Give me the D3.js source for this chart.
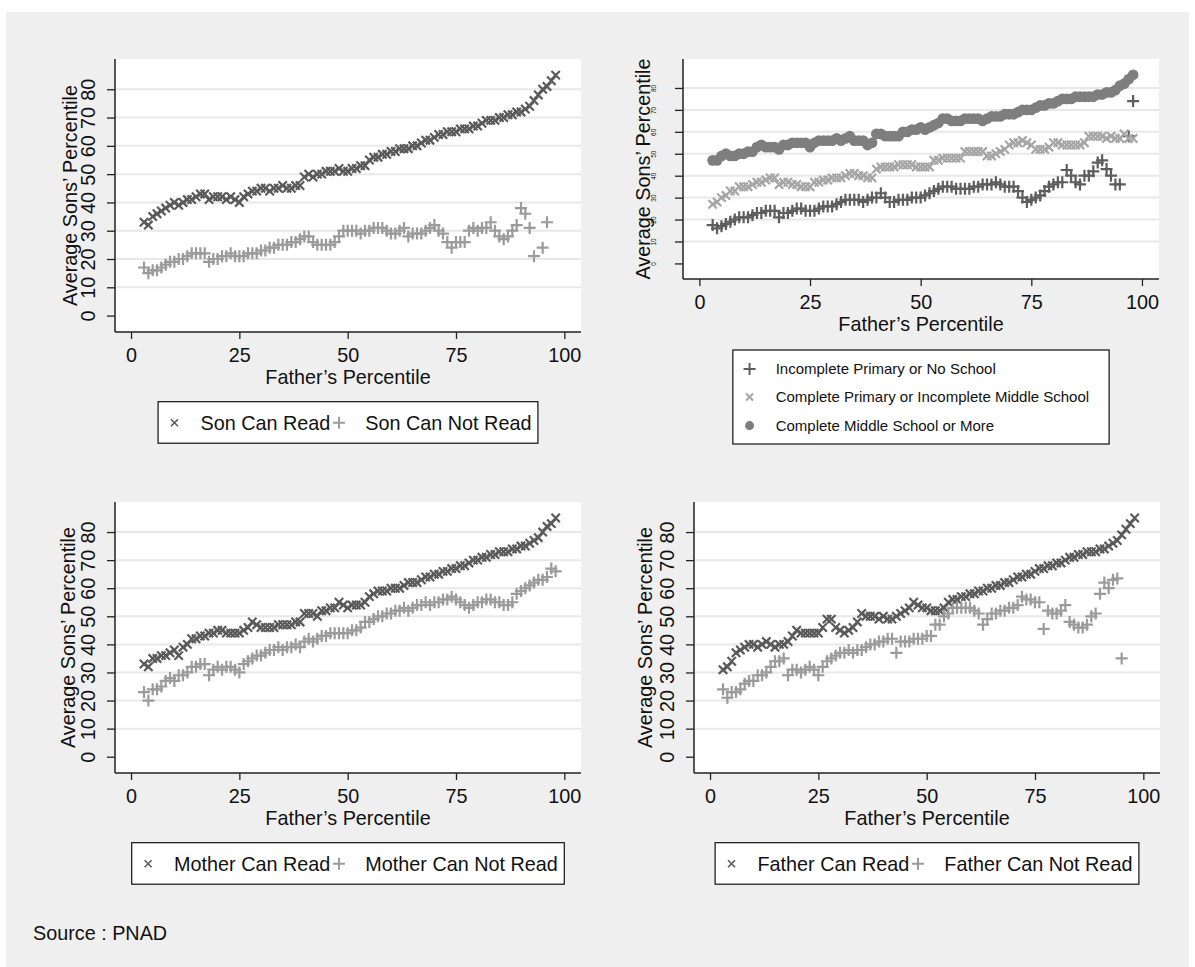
<!DOCTYPE html>
<html>
<head>
<meta charset="utf-8">
<script src="https://cdn.jsdelivr.net/npm/d3@7"></script>
<style>
  body { margin:0; background:#fff; }
  text { font-family:'Liberation Sans', Arial, Helvetica, sans-serif; fill:#111; }
</style>
</head>
<body>
<script>
/* ----- data ------------------------------------------------- */
const pct = [3,4,5,6,7,8,9,10,11,12,13,14,15,16,17,18,19,20,21,22,23,24,25,26,27,28,29,30,
  31,32,33,34,35,36,37,38,39,40,41,42,43,44,45,46,47,48,49,50,51,52,53,54,55,56,57,58,59,60,
  61,62,63,64,65,66,67,68,69,70,71,72,73,74,75,76,77,78,79,80,81,82,83,84,85,86,87,88,89,90,
  91,92,93,94,95,96,97,98];
const xTicks = [0,25,50,75,100];
const yTicks = [0,10,20,30,40,50,60,70,80];

const sonRead = [33,32,35,36,37,38,39,40,39,40, 41,41,42,43,43,41,42,42,42,41,
  42,41,40,42,43,44,44,45,45,44, 45,45,46,45,45,46,46,49,50,49, 50,50,51,51,51,52,51,51,52,52,
  53,53,55,56,56,57,57,58,58,59, 59,59,60,60,61,62,62,63,64,64, 65,65,65,66,66,66,67,67,68,69,
  69,69,70,70,71,71,72,72,73,74, 76,78,80,81,83,85];
const sonNotRead = [17,15,16,16,17,18,19,19,20,20, 21,22,22,22,22,19,20,20,21,21,
  22,21,21,21,22,22,22,23,23,24, 24,25,25,25,26,26,27,28,28,26, 25,25,25,25,26,28,30,30,30,30,
  29,30,30,31,31,31,30,29,29,30, 31,28,29,29,29,30,31,32,30,29, 26,24,26,26,26,30,31,30,31,31,
  33,30,28,27,28,30,32,38,36,31, 21,null,24,33,null,null];

const noSchool = [17.5,16,17,18,19,20,21,21,21,22, 23,23,24,24,24,21,23,23,24,25,
  25,24,24,24,25,26,26,26,27,28, 29,29,29,29,28,29,30,30,32,30, 28,28,29,29,29,30,30,30,31,32,
  33,34,35,35,35,34,34,34,34,35, 35,36,36,36,37,36,35,35,35,33, 30,28,29,30,31,33,35,36,37,37,
  42.6,40,37,36,40,40,42,46,47,43, 40,36,36,null,58,74];
const primComplete = [27,28,30,31,33,33,35,35,35,36, 37,37,38,39,39,36,37,37,36,36,
  35,35,35,37,37,38,38,39,39,39, 40,41,41,40,40,39,39,43,44,44, 44,44,45,45,45,45,44,44,44,44,
  47,47,48,48,48,48,48,51,51,51, 51,51,49,49,50,51,52,54,55,55, 56,55,54,52,52,52,53,55,55,54,
  54,54,54,54,55,58,58,58,58,57, 58,57,57,59,57,57];
const middlePlus = [47,47,49,50,49,49,50,50,51,51, 53,54,53,53,53,52,54,54,55,55,
  55,55,53,55,56,56,56,56,57,56, 57,58,56,56,56,54,55,59,59,58, 58,58,58,60,60,61,61,62,61,62,
  63,64,66,66,65,65,65,66,66,66, 66,65,66,67,67,67,68,68,68,69, 70,70,70,71,72,72,73,73,74,75,
  75,75,76,76,76,76,76,77,77,78, 78,79,81,82,84,86];

const motherRead = [33,32,35,35,36,36,37,38,36,39, 40,42,42,43,43,44,44,45,45,44,
  44,44,44,45,46,48,47,46,46,46, 46,47,47,47,47,48,48,51,51,51, 50,52,52,53,53,55,54,53,54,54,
  54,55,57,58,59,59,59,60,60,60, 61,62,62,62,63,64,64,65,65,66, 66,67,67,68,68,69,70,70,71,71,
  72,72,73,73,73,74,74,75,75,76, 77,78,80,82,83,85];
const motherNotRead = [23,20,24,24,25,27,28,27,29,29, 30,32,32,33,33,29,31,32,31,32,
  32,31,30,33,34,35,36,36,37,38, 38,39,38,39,39,40,39,41,42,41, 42,43,43,44,44,44,44,44,45,45,
  46,48,48,49,50,50,51,51,52,52, 53,52,53,54,54,55,54,55,55,56, 56,57,56,55,54,53,54,55,55,56,
  56,55,55,54,54,55,58,59,60,61, 62,63,63,64,67,66];

const fatherRead = [31,32,34,37,38,39,40,40,39,40, 41,40,39,40,40,41,43,45,44,44,
  44,44,44,46,49,49,46,45,44,45, 46,48,51,50,50,50,49,50,49,49, 50,51,52,53,55,54,53,53,52,52,
  52,53,55,56,56,57,57,58,58,59, 59,60,60,61,61,62,62,63,64,64, 65,65,66,67,67,68,68,69,69,70,
  71,71,72,72,73,73,73,74,74,75, 76,77,79,81,83,85];
const fatherNotRead = [24,21,23,23,24,26,27,27,29,29, 30,32,34,34,35,29,31,31,30,31,
  32,31,29,32,34,35,36,37,37,38, 37,38,38,39,40,40,41,41,42,42, 37,41,41,41,42,42,42,43,43,47,
  47,50,51,53,53,53,53,53,52,51, 47,49,51,51,52,52,53,53,54,57, 56,56,55,55,45.5,52,51,51,52,54,
  48,47,46,46,47,50,51,58,62,60, 63,63.5,35,null,null,null];

/* ----- setup ------------------------------------------------ */
const W = 1195, H = 967;
const FONT = 19.8;
const svg = d3.select('body').append('svg').attr('width',W).attr('height',H);
svg.append('rect').attr('x',6).attr('y',12).attr('width',W-12).attr('height',H-12)
  .attr('fill','#efefef');

const DARK = '#5a5a5a', LIGHT = '#9b9b9b', MID = '#7e7e7e', DARK2 = '#5e5e5e', LIGHT2 = '#a6a6a6';
const sym = {
  plus:  s => `M${-s},0H${s}M0,${-s}V${s}`,
  cross: s => `M${-s},${-s}L${s},${s}M${-s},${s}L${s},${-s}`
};

function marker(g, type, color, size, sw){
  if(type==='circle'){
    return g.append('circle').attr('r',size).attr('fill',color);
  }
  return g.append('path').attr('d',sym[type](size))
    .attr('fill','none').attr('stroke',color).attr('stroke-width',sw||2.2);
}

/* ----- one panel -------------------------------------------- */
function panel(cfg){
  const {L,T,R,B} = cfg;
  const g = svg.append('g');
  const x = d3.scaleLinear().domain([-3.7,103.85]).range([L,R]);
  const y = d3.scaleLinear().domain(cfg.yDom).range([B,T]);

  g.append('rect').attr('x',L).attr('y',T).attr('width',R-L).attr('height',B-T).attr('fill','#fff');

  g.selectAll('.grid').data(yTicks.filter(d=>d>0)).join('line')
    .attr('x1',L).attr('x2',R).attr('y1',d=>y(d)).attr('y2',d=>y(d))
    .attr('stroke','#e8e8e8').attr('stroke-width',2);

  /* points */
  cfg.series.forEach(s=>{
    const pts = pct.map((p,i)=>({p, v:s.values[i]})).filter(d=>d.v!=null);
    const sel = g.append('g').selectAll('g').data(pts).join('g')
      .attr('transform',d=>`translate(${x(d.p)},${y(d.v)})`);
    sel.each(function(){ marker(d3.select(this), s.type, s.color, s.size); });
  });

  /* axes */
  const ya = g.append('g').attr('transform',`translate(${L},0)`)
    .call(d3.axisLeft(y).tickValues(yTicks).tickSize(8).tickSizeOuter(0));
  ya.select('.domain').attr('d',`M0,${T}V${B}`);
  ya.selectAll('line').attr('stroke','#222').attr('stroke-width',1.3);
  ya.select('.domain').attr('stroke','#222').attr('stroke-width',1.5);
  ya.selectAll('text')
    .attr('x',null).attr('dy','0.35em')
    .attr('transform',`translate(${-cfg.labDx},0) rotate(-90)`)
    .attr('text-anchor','middle')
    .style('font-size',cfg.tickFont+'px').style('font-family',null).attr('fill','#111');

  const xa = g.append('g').attr('transform',`translate(0,${B})`)
    .call(d3.axisBottom(x).tickValues(xTicks).tickSize(7).tickSizeOuter(0));
  xa.select('.domain').attr('d',`M${L},0H${R}`).attr('stroke','#222').attr('stroke-width',1.5);
  xa.selectAll('line').attr('stroke','#222').attr('stroke-width',1.3);
  xa.selectAll('text').style('font-size',FONT+'px').style('font-family',null).attr('fill','#111')
    .attr('dy',null).attr('y',30);

  g.append('text').attr('x',(L+R)/2).attr('y',B+52).attr('text-anchor','middle')
    .style('font-size',FONT+'px').text('Father’s Percentile');

  g.append('text')
    .attr('transform',`translate(${L-cfg.titleDx},${(T+B)/2}) rotate(-90)`)
    .attr('dy','0.35em').attr('text-anchor','middle')
    .style('font-size',FONT+'px').text('Average Sons’ Percentile');

  /* legend */
  const cx = (L+R)/2;
  if(cfg.stacked){
    const top = B+71, lg = g.append('g');
    const box = lg.append('rect').attr('y',top).attr('height',94)
      .attr('fill','#fff').attr('stroke','#111').attr('stroke-width',1.2);
    const rows = [19,47,75.6];
    let maxW = 0;
    const texts = cfg.series.map((s,i)=>{
      const t = lg.append('text').attr('y',top+rows[i]).attr('dy','0.35em')
        .style('font-size','15px').text(s.label);
      maxW = Math.max(maxW, t.node().getComputedTextLength());
      return t;
    });
    const w = 42.8 + maxW + 20, left = cx - w/2;
    box.attr('x',left).attr('width',w);
    cfg.series.forEach((s,i)=>{
      texts[i].attr('x',left+42.8);
      const m = lg.append('g').attr('transform',`translate(${left+16.7},${top+rows[i]})`);
      marker(m, s.type, s.color, s.type==='plus'?6:(s.type==='cross'?3.5:4.5), 2);
    });
  } else {
    const top = B+69.7, lg = g.append('g'), cy = top+21;
    const box = lg.append('rect').attr('y',top).attr('height',41.5)
      .attr('fill','#fff').attr('stroke','#111').attr('stroke-width',1.2);
    const t1 = lg.append('text').attr('y',cy).attr('dy','0.35em').style('font-size',FONT+'px')
      .text(cfg.series[0].label);
    const t2 = lg.append('text').attr('y',cy).attr('dy','0.35em').style('font-size',FONT+'px')
      .text(cfg.series[1].label);
    const w1 = t1.node().getComputedTextLength(), w2 = t2.node().getComputedTextLength();
    const w = 42.4 + w1 + 8.7 + 26.4 + w2 + 6.5, left = cx - w/2;
    box.attr('x',left).attr('width',w);
    t1.attr('x',left+42.4);
    const k2 = left+42.4+w1+8.7;
    t2.attr('x',k2+26.4);
    marker(lg.append('g').attr('transform',`translate(${left+16.4},${cy})`),
      'cross', cfg.series[0].color, 3.5, 1.6);
    marker(lg.append('g').attr('transform',`translate(${k2},${cy})`),
      'plus', cfg.series[1].color, 6, 2);
  }
}

panel({L:115,T:59,R:581,B:332,yDom:[-5.8,90.7],tickFont:FONT,labDx:27,titleDx:45,
  series:[
    {label:'Son Can Read',values:sonRead,type:'cross',color:DARK,size:4.2},
    {label:'Son Can Not Read',values:sonNotRead,type:'plus',color:LIGHT,size:6}
  ]});

panel({L:683,T:59,R:1159,B:279,yDom:[-7.1,93.2],tickFont:6.5,labDx:29,titleDx:40,stacked:true,
  series:[
    {label:'Incomplete Primary or No School',values:noSchool,type:'plus',color:DARK2,size:6},
    {label:'Complete Primary or Incomplete Middle School',values:primComplete,type:'cross',color:LIGHT2,size:4.2},
    {label:'Complete Middle School or More',values:middlePlus,type:'circle',color:MID,size:5.4}
  ]});

panel({L:115,T:502,R:581,B:773,yDom:[-5.8,90.7],tickFont:FONT,labDx:27,titleDx:47,
  series:[
    {label:'Mother Can Read',values:motherRead,type:'cross',color:DARK,size:4.2},
    {label:'Mother Can Not Read',values:motherNotRead,type:'plus',color:LIGHT,size:6}
  ]});

panel({L:694,T:502,R:1160,B:773,yDom:[-5.8,90.7],tickFont:FONT,labDx:27,titleDx:49,
  series:[
    {label:'Father Can Read',values:fatherRead,type:'cross',color:DARK,size:4.2},
    {label:'Father Can Not Read',values:fatherNotRead,type:'plus',color:LIGHT,size:6}
  ]});

svg.append('text').attr('x',33).attr('y',933).attr('dy','0.35em')
  .style('font-size',FONT+'px').text('Source : PNAD');
</script>
</body>
</html>
